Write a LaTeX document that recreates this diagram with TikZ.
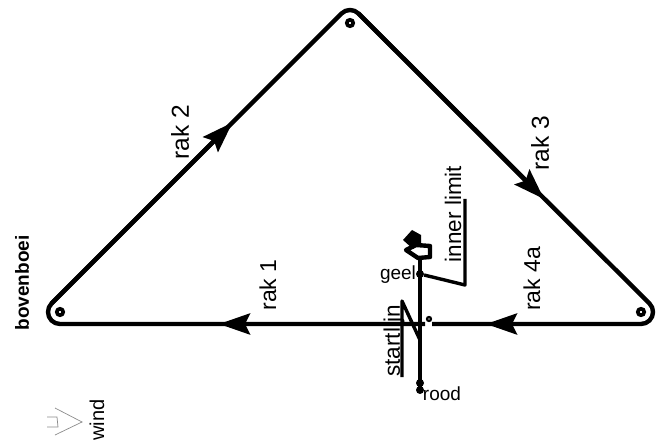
\documentclass[tikz,border=0pt]{standalone}
\usepackage{fontspec}
\setmainfont{Liberation Sans}
\usetikzlibrary{arrows.meta}
\tikzset{
  x=1pt,y=-1pt,
  course/.style={line width=4.4pt,line join=round},
  legarrow/.style={course,-{Stealth[length=31pt,width=21pt,inset=5pt]}},
  thin line/.style={line width=3.4pt,line join=round},
  flagline/.style={line width=4.4pt,line join=round},
  buoy/.style={circle,draw=black,line width=3.6pt,fill=white,inner sep=0pt,minimum size=6.5pt},
  smallbuoy/.style={buoy,minimum size=4pt,line width=2.2pt},
  endpt/.style={circle,fill=black,inner sep=0pt,minimum size=8pt},
  lbl/.style={font=\fontsize{23}{23}\selectfont,inner sep=0pt},
  rlbl/.style={lbl,rotate=90},
  widelbl/.style={rlbl,font=\fontsize{24.5}{25}\selectfont},
  windline/.style={line width=.7pt,draw=black!45},
}
\begin{document}
\begin{tikzpicture}
\useasboundingbox (0,0) rectangle (658,446);
\fill[white] (0,0) rectangle (658,446);
% marks
\node[buoy] (top) at (350,23) {};
\node[buoy] (left) at (60,312) {};
\node[buoy] (right) at (641,312) {};
\node[smallbuoy] (pin) at (429,319) {};
% outline
\coordinate (a2) at (232.5,122.5);
\coordinate (a3) at (544,199);
\coordinate (a1) at (219,324);
\coordinate (a4) at (486,324);
\coordinate (rgap) at (432,324);
\coordinate (lgap) at (425,324);
\draw[course] (lgap) -- (60,324) arc[start angle=90,end angle=225,radius=12] -- (341.5,13.5) arc[start angle=225,end angle=315,radius=12] -- (649.5,303.5) arc[start angle=-45,end angle=90,radius=12] -- (rgap);
\draw[legarrow] (51.5,303.5) -- (a2);
\draw[legarrow] (358.5,13.5) -- (a3);
\draw[legarrow] (641,324) -- (a4);
\draw[legarrow] (lgap) -- (a1);
% start line
\coordinate (geel) at (420,274);
\coordinate (rood) at (420,390);
\draw[thin line] (420,258) -- (rood);
\node[endpt] (g) at (geel) {};
\node[endpt] (r1) at (rood) {};
\node[endpt] (r2) at (420,383) {};
\draw[thin line] (g) -- (465,285) -- (465,199);
\draw[thin line] (402,377) -- (402,301) -- (420,340);
% flag
\fill (412,230) -- (421,235) -- (421,243) -- (413,249) -- (403,240) -- cycle;
\draw[flagline] (406,250) -- (416,245) -- (430,246) -- (430,257) -- (418,258) -- cycle;
% texts
\node[rlbl,anchor=center] (t1) at (268,285) {rak 1};
\node[widelbl] (t2) at (180,132) {rak 2};
\node[widelbl] (t3) at (540,143) {rak 3};
\node[rlbl] (t4) at (532,279) {rak 4a};
\node[rlbl,font=\fontsize{22.5}{23}\selectfont] (t5) at (453,214) {inner limit};
\node[rlbl,font=\fontsize{22.5}{23}\selectfont] (t6) at (394,341) {startlijn};
\node[lbl,font=\fontsize{19}{19}\selectfont] (t7) at (398,275) {geel};
\node[lbl,font=\fontsize{19}{19}\selectfont] (t8) at (442,394) {rood};
\node[rlbl,font=\bfseries\fontsize{19}{19}\selectfont] (t9) at (22,283) {bovenboei};
\node[rlbl,font=\fontsize{20}{20}\selectfont] (t10) at (97,420) {wind};
% wind
\draw[windline] (55,408) -- (82,422) -- (55,435);
\draw[windline] (47,417) -- (57,417) -- (58,427) -- (47,427);
\end{tikzpicture}
\end{document}
